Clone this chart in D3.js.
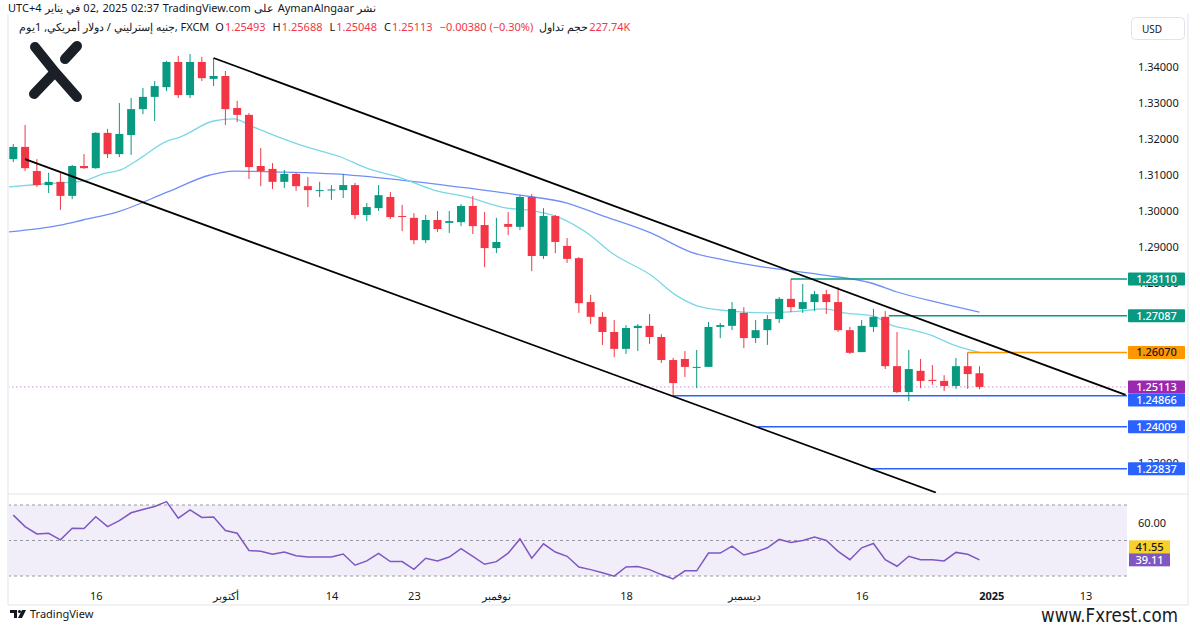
<!DOCTYPE html>
<html><head><meta charset="utf-8">
<script src="https://cdn.jsdelivr.net/npm/d3@7"></script>
<style>
html,body{margin:0;padding:0;background:#fff;}
svg{display:block;font-family:"Noto Sans","Open Sans",Roboto,sans-serif;}
</style></head><body>
<svg id="c" width="1200" height="628"></svg>
<script>
// ---------------- DATA ----------------
const opens  = [1.3144,1.3178,1.3111,1.3072,1.3081,1.3042,1.3125,1.3119,1.3217,1.3158,1.3211,1.3283,1.3317,1.3344,1.3414,1.3322,1.3414,1.3367,1.3375,1.3286,1.3267,1.3125,1.3117,1.3081,1.3103,1.3069,1.3057,1.3057,1.3058,1.3072,1.2989,1.3008,1.3039,1.2986,1.2981,1.2919,1.2975,1.2967,1.2969,1.3014,1.2961,1.2897,1.2964,1.2956,1.3039,1.2875,1.2986,1.2903,1.2869,1.2747,1.2706,1.2664,1.2617,1.2675,1.2681,1.2650,1.2586,1.2589,1.2565,1.2567,1.2678,1.2681,1.2717,1.2647,1.2669,1.2700,1.2756,1.2728,1.2747,1.2769,1.2747,1.2669,1.2608,1.2678,1.2706,1.2569,1.2497,1.2556,1.2531,1.2528,1.2514,1.2569,1.25493];
const highs  = [1.3186,1.3239,1.3144,1.3106,1.3108,1.3128,1.3158,1.3219,1.3228,1.3300,1.3314,1.3342,1.3361,1.3417,1.3431,1.3436,1.3428,1.3425,1.3389,1.3306,1.3272,1.3175,1.3133,1.3114,1.3106,1.3094,1.3081,1.3072,1.3103,1.3078,1.3022,1.3072,1.3053,1.3017,1.2994,1.2989,1.3000,1.3000,1.3019,1.3042,1.2997,1.2981,1.2997,1.3044,1.3047,1.3008,1.2989,1.2925,1.2872,1.2767,1.2719,1.2697,1.2683,1.2686,1.2714,1.2658,1.2592,1.2611,1.2614,1.2692,1.2689,1.2747,1.2733,1.2697,1.2711,1.2761,1.2811,1.2797,1.2778,1.2781,1.2789,1.2678,1.2697,1.2728,1.2722,1.2664,1.2614,1.2589,1.2572,1.2544,1.2592,1.2607,1.25688];
const lows   = [1.3136,1.3111,1.3067,1.3050,1.3003,1.3033,1.3117,1.3117,1.3147,1.3150,1.3156,1.3269,1.3250,1.3333,1.3314,1.3314,1.3361,1.3347,1.3239,1.3247,1.3089,1.3069,1.3061,1.3064,1.3056,1.3011,1.3039,1.3031,1.3036,1.2978,1.2972,1.3000,1.2978,1.2944,1.2908,1.2911,1.2942,1.2939,1.2958,1.2936,1.2844,1.2883,1.2933,1.2947,1.2833,1.2867,1.2883,1.2856,1.2717,1.2686,1.2628,1.2594,1.2603,1.2611,1.2631,1.2578,1.2487,1.2539,1.2508,1.2567,1.2647,1.2669,1.2619,1.2633,1.2628,1.2689,1.2719,1.2717,1.2722,1.2714,1.2664,1.2603,1.2608,1.2664,1.2561,1.2494,1.2472,1.2508,1.2517,1.2500,1.2506,1.2506,1.25048];
const closes = [1.3178,1.3119,1.3072,1.3081,1.3042,1.3125,1.3119,1.3217,1.3158,1.3214,1.3283,1.3317,1.3347,1.3414,1.3322,1.3414,1.3369,1.3375,1.3283,1.3267,1.3122,1.3111,1.3081,1.3103,1.3069,1.3058,1.3058,1.3060,1.3072,1.2989,1.3011,1.3044,1.2983,1.2985,1.2919,1.2975,1.2950,1.2972,1.3014,1.2958,1.2897,1.2914,1.2956,1.3039,1.2875,1.2986,1.2914,1.2867,1.2744,1.2706,1.2664,1.2617,1.2675,1.2681,1.2650,1.2586,1.2522,1.2567,1.2567,1.2678,1.2683,1.2728,1.2647,1.2669,1.2700,1.2756,1.2733,1.2747,1.2769,1.2747,1.2669,1.2606,1.2681,1.2706,1.2569,1.2497,1.2561,1.2528,1.2528,1.2514,1.2569,1.2547,1.25113];

// moving averages: [bar index, value]
const maFast = [[-0.4,1.3067],[2.5,1.3075],[5.9,1.3083],[7.6,1.3103],[9.1,1.3114],[10.8,1.3147],[12.9,1.3192],[14.2,1.3206],[17,1.3250],[18.7,1.3256],[20.4,1.3233],[21.6,1.3217],[24.4,1.3183],[27.8,1.3150],[30,1.3119],[32.9,1.3092],[35.7,1.3058],[38.5,1.3039],[41.9,1.3008],[43.6,1.3003],[46.4,1.2981],[48.7,1.2939],[50.9,1.2881],[54.1,1.2822],[56.2,1.2767],[58.1,1.2736],[60.9,1.2722],[63.7,1.2717],[66.8,1.2722],[68.8,1.2728],[70.5,1.2717],[73,1.2708],[74.5,1.2683],[76.4,1.2669],[77.8,1.2656],[79.8,1.2628],[82,1.2607]];
const maSlow = [[-0.4,1.2942],[4,1.2961],[5.9,1.2975],[8.8,1.2997],[13.1,1.3053],[16.7,1.3100],[18.7,1.3111],[22.9,1.3108],[27.2,1.3103],[32.9,1.3086],[38.5,1.3064],[43,1.3044],[47,1.3022],[49.8,1.2989],[54.1,1.2939],[57.5,1.2886],[60.3,1.2864],[63.7,1.2844],[66.8,1.2831],[68.8,1.2822],[72.8,1.2800],[75,1.2775],[78.7,1.2744],[82,1.2719]];

const rsiValues = [64.3,57.8,53.7,54.1,50.4,56.9,56.7,63.4,57.8,61.2,65.6,67.5,69.2,71.9,62.6,67.3,63.0,63.2,55.6,54.1,44.4,43.9,42.2,43.5,41.4,40.7,40.7,40.7,42.4,36.1,38.5,42.7,38.1,38.1,33.8,40.0,38.5,40.7,45.4,41.1,36.6,38.1,42.9,50.9,40.0,48.1,43.5,41.1,35.1,33.6,31.8,29.9,35.1,35.3,33.6,30.8,28.4,32.9,32.9,42.9,42.9,46.8,41.8,43.5,45.9,50.6,48.9,50.0,51.9,50.0,43.9,39.2,45.9,48.3,39.2,35.5,41.1,39.2,39.2,38.5,43.3,42.2,39.11];
const rsiLevels = [70, 50, 30];
const rsiMaValue = 41.55;

const upperChannel = [[17,1.3425],[94.4,1.2489]];
const lowerChannel = [[1,1.3144],[78.3,1.2218]];

const levelValues = [1.28110, 1.27087, 1.26070, 1.24866, 1.24009, 1.22837];
const levelStarts = [66, 74.3, 81, 56, 63.2, 72.8];
const levelColors = ["#089981","#089981","#ff9800","#2962ff","#2962ff","#2962ff"];
const lastPrice = 1.25113;

const priceTicks = [1.34,1.33,1.32,1.31,1.30,1.29,1.28,1.23];
const timeTickIdx = [7,18,27,34,41,52,62,72,83,91];
const timeTickLabels = ["16","أكتوبر","14","23","نوفمبر","18","ديسمبر","16","2025","13"];

// ---------------- DRAW ----------------
const svg = d3.select("#c");
const UP="#089981", DN="#f23645", TXT="#131722";
const xs = d3.scaleLinear().domain([-0.45, 94.35]).range([8, 1125]);
const ys = d3.scaleLinear().domain([1.23, 1.34]).range([463, 67]);
const rs = d3.scaleLinear().domain([30, 70]).range([576, 505]);

svg.append("rect").attr("width",1200).attr("height",628).attr("fill","#fff");
// frame
svg.append("line").attr("x1",8).attr("x2",8).attr("y1",14).attr("y2",605).attr("stroke","#e0e3eb");
svg.append("line").attr("x1",1188).attr("x2",1188).attr("y1",14).attr("y2",605).attr("stroke","#e0e3eb");
svg.append("line").attr("x1",8).attr("x2",1188).attr("y1",605).attr("y2",605).attr("stroke","#e0e3eb");
svg.append("line").attr("x1",8).attr("x2",1188).attr("y1",494).attr("y2",494).attr("stroke","#e0e3eb");

const defs = svg.append("defs");
defs.append("clipPath").attr("id","mainClip").append("rect").attr("x",9).attr("y",14).attr("width",1118).attr("height",479);
defs.append("clipPath").attr("id","rsiClip").append("rect").attr("x",9).attr("y",495).attr("width",1118).attr("height",88);

const main = svg.append("g").attr("clip-path","url(#mainClip)");

// logo
const logo = svg.append("g").attr("stroke","#1b1f27").attr("stroke-width",10).attr("stroke-linecap","round").attr("stroke-linejoin","round").attr("fill","none");
logo.append("path").attr("d","M35,47 L55,72 L77,97");
logo.append("path").attr("d","M34,94 L54,73");
logo.append("path").attr("d","M65,59 L77,46");

// MA lines
const lineMA = d3.line().x(d=>xs(d[0])).y(d=>ys(d[1])).curve(d3.curveMonotoneX);
main.append("path").attr("d",lineMA(maSlow)).attr("fill","none").attr("stroke","#6f8ff7").attr("stroke-width",1.3);
main.append("path").attr("d",lineMA(maFast)).attr("fill","none").attr("stroke","#7ad7e6").attr("stroke-width",1.3);

// current price dotted
main.append("line").attr("x1",8).attr("x2",1128).attr("y1",ys(lastPrice)).attr("y2",ys(lastPrice))
  .attr("stroke","#cf8fe0").attr("stroke-width",1).attr("stroke-dasharray","1.5,2.5");

// horizontal levels
levelValues.forEach((v,i)=>{
  main.append("line").attr("x1",xs(levelStarts[i])).attr("x2",1128).attr("y1",ys(v)).attr("y2",ys(v))
    .attr("stroke",levelColors[i]).attr("stroke-width",1.5);
});

// candles
const bw = (xs(1)-xs(0))*0.68;
const cg = main.append("g");
opens.forEach((o,i)=>{
  const c = closes[i], up = c>=o, col = up?UP:DN, x = xs(i);
  cg.append("line").attr("x1",x).attr("x2",x).attr("y1",ys(highs[i])).attr("y2",ys(lows[i])).attr("stroke",col).attr("stroke-width",1);
  const y1 = ys(Math.max(o,c)), y2 = ys(Math.min(o,c));
  cg.append("rect").attr("x",x-bw/2).attr("y",y1).attr("width",bw).attr("height",Math.max(1,y2-y1)).attr("fill",col);
});

// channel lines
const lineP = d3.line().x(d=>xs(d[0])).y(d=>ys(d[1]));
main.append("path").attr("d",lineP(upperChannel)).attr("stroke","#000").attr("stroke-width",1.8).attr("fill","none");
main.append("path").attr("d",lineP(lowerChannel)).attr("stroke","#000").attr("stroke-width",1.8).attr("fill","none");

// price axis
const pAxis = svg.append("g").attr("transform","translate(1128,0)")
  .call(d3.axisRight(ys).tickValues(priceTicks).tickFormat(d3.format(".5f")).tickSize(0).tickPadding(10));
pAxis.select(".domain").remove();
pAxis.selectAll("text").attr("font-size",11).attr("fill",TXT).attr("font-family","Noto Sans, sans-serif");

// USD box
svg.append("rect").attr("x",1131.5).attr("y",17.5).attr("width",53).attr("height",22).attr("rx",4).attr("fill","#fff").attr("stroke","#e0e3eb");
svg.append("text").attr("x",1152).attr("y",32.5).attr("text-anchor","middle").attr("font-size",10).attr("fill",TXT).text("USD");

// price labels (collision aware)
const lab = [{v:lastPrice,c:"#9c27b0",t:"#fff"}].concat(levelValues.map((v,i)=>({v, c:levelColors[i], t: levelColors[i]==="#ff9800"?"#131722":"#fff"})));
lab.sort((a,b)=>b.v-a.v);
let prevBottom = -1e9;
const LH = 13;
lab.forEach(l=>{
  let cy = ys(l.v);
  if (cy - LH/2 < prevBottom) cy = prevBottom + LH/2;
  prevBottom = cy + LH/2;
  svg.append("rect").attr("x",1128).attr("y",cy-LH/2).attr("width",57).attr("height",LH).attr("fill",l.c).attr("rx",1);
  svg.append("text").attr("x",1156.5).attr("y",cy+4).attr("text-anchor","middle").attr("font-size",11).attr("font-weight",500).attr("fill",l.t).text(d3.format(".5f")(l.v));
});

// RSI pane
const rg = svg.append("g").attr("clip-path","url(#rsiClip)");
rg.append("rect").attr("x",8).attr("y",rs(70)).attr("width",1120).attr("height",rs(30)-rs(70)).attr("fill","#7e57c2").attr("fill-opacity",0.1);
rsiLevels.forEach(v=>{
  rg.append("line").attr("x1",8).attr("x2",1128).attr("y1",rs(v)).attr("y2",rs(v)).attr("stroke","#9598a1").attr("stroke-dasharray","3,3").attr("stroke-width",1);
});
const rl = d3.line().x((d,i)=>xs(i)).y(d=>rs(d));
rg.append("path").attr("d",rl(rsiValues)).attr("fill","none").attr("stroke","#7e57c2").attr("stroke-width",1.5);

svg.append("text").attr("x",1138).attr("y",rs(60)+4).attr("font-size",11).attr("fill",TXT).text("60.00");
const rLast = rsiValues[rsiValues.length-1];
const yLast = rs(rLast);
const yMa = Math.min(rs(rsiMaValue), yLast-13);
[[yMa,"#f7d02c",TXT,rsiMaValue],[yLast,"#7e57c2","#fff",rLast]].forEach(([cy,bg,fg,v])=>{
  svg.append("rect").attr("x",1129).attr("y",cy-6.5).attr("width",41).attr("height",13).attr("fill",bg);
  svg.append("text").attr("x",1149.5).attr("y",cy+4).attr("text-anchor","middle").attr("font-size",11).attr("font-weight",500).attr("fill",fg).text(d3.format(".2f")(v));
});

// time axis
const tAxis = svg.append("g").attr("transform","translate(0,588)")
  .call(d3.axisBottom(xs).tickValues(timeTickIdx).tickFormat((d,i)=>timeTickLabels[i]).tickSize(0).tickPadding(4));
tAxis.select(".domain").remove();
tAxis.selectAll("text").attr("font-size",11).attr("fill",TXT).attr("font-family","Noto Sans, sans-serif")
  .attr("font-weight",(d,i)=>timeTickLabels[i]==="2025"?700:400);

// header
function segs(list, x, y, size){
  let cx = x;
  list.forEach(s=>{
    const t = svg.append("text").attr("x",cx).attr("y",y).attr("font-size",size).attr("fill",s.c||TXT).text(s.t);
    cx += t.node().getComputedTextLength() + (s.g===undefined?3.5:s.g);
  });
}
segs([{t:"UTC+4"},{t:"في يناير"},{t:"02,"},{t:"2025"},{t:"02:37"},{t:"TradingView.com"},{t:"على"},{t:"AymanAlngaar"},{t:"نشر"}], 8, 12, 11);
segs([{t:"جنيه إسترليني / دولار أمريكي, 1يوم, FXCM",g:6},
      {t:"O",g:1},{t:"1.25493",c:DN,g:7},
      {t:"H",g:1},{t:"1.25688",c:DN,g:7},
      {t:"L",g:1},{t:"1.25048",c:DN,g:7},
      {t:"C",g:1},{t:"1.25113",c:DN,g:7},
      {t:"−0.00380 (−0.30%)",c:DN,g:6},
      {t:"حجم تداول",g:1},{t:"227.74K",c:DN}], 19, 31, 11);

// footer
const tv = svg.append("g").attr("fill","#131722");
tv.append("path").attr("d","M10,610 h7 v8 h-3 v-5 h-4 z");
tv.append("circle").attr("cx",19.5).attr("cy",611.5).attr("r",1.6);
tv.append("path").attr("d","M22,610 h4 l-4,8 h-4 z");
svg.append("text").attr("x",30).attr("y",618).attr("font-size",11).attr("fill",TXT).text("TradingView");
svg.append("text").attr("x",1041).attr("y",622).attr("font-size",20).attr("fill","#1a1a1a")
  .attr("font-family","Liberation Sans Narrow, DejaVu Sans Condensed, sans-serif").attr("textLength",137).attr("lengthAdjust","spacingAndGlyphs").text("www.Fxrest.com");
</script>
</body></html>
